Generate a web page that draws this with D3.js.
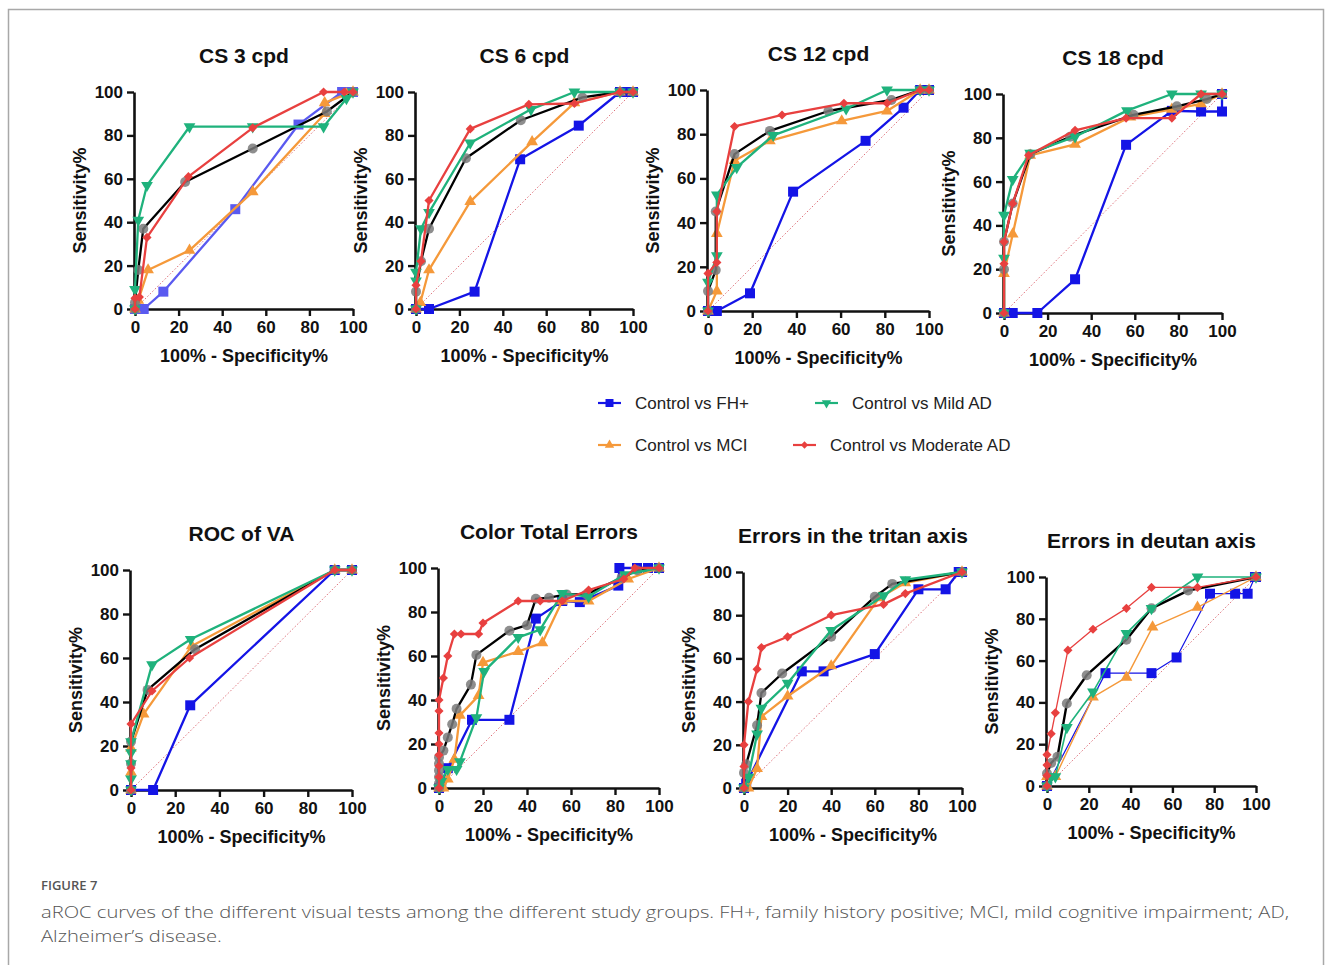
<!DOCTYPE html>
<html>
<head>
<meta charset="utf-8">
<script src="https://cdn.jsdelivr.net/npm/d3@7"></script>
<style>
  body { margin: 0; background: #fff; }
  svg text { font-family: "Liberation Sans", Arial, sans-serif; }
  svg text.caption { font-family: "Open Sans", sans-serif; }
</style>
</head>
<body>
<script>
// ---- data: [100% - specificity, sensitivity] ----

// CS 3 cpd
const CS3_FH   = [[0,0],[4,0],[13,8],[46,46],[75,85],[95,100],[97,100],[100,100]]
const CS3_MCI  = [[0,0],[1.5,4],[6,18],[25,27],[54,54],[87,90],[87,95],[97,99],[100,100]]
const CS3_MILD = [[0,0],[0,9],[1.5,41],[5.5,57],[25,84],[54,84],[86.5,84],[97,97],[100,100]]
const CS3_MOD  = [[0,0],[0,5],[2,5.5],[5.5,33],[24.5,61],[54,83.5],[86.5,100],[96,100],[100,100]]
const CS3_ALL  = [[0,0],[0,3],[1.5,18],[3.8,37],[23,58.5],[54,74],[88,91],[100,100]]

// CS 6 cpd
const CS6_FH   = [[0,0],[6,0],[27,8],[48,69],[75,84.5],[94,100],[97,100],[100,100]]
const CS6_MCI  = [[0,0],[2,3],[6,18],[25,49.5],[53.5,77],[73,95],[94,100],[100,100]]
const CS6_MILD = [[0,0],[0,13],[0,17],[2.3,37],[6,44.5],[25,76.5],[53,92],[73,100],[94,100],[100,100]]
const CS6_MOD  = [[0,0],[0,11],[2.3,22],[6,50],[25,83],[52,94.3],[73,94.7],[94,100],[100,100]]
const CS6_ALL  = [[0,0],[0,8],[2.3,22],[6,37],[23,69.5],[48.3,87],[76.7,97.5],[94,100],[100,100]]

// CS 12 cpd
const CS12_FH   = [[0,0],[4,0],[19,8],[38.5,54],[71.3,77],[88.5,92],[96,100],[100,100]]
const CS12_MCI  = [[0,0],[4,9],[4,35],[12,68],[28,77],[60.5,86],[81,90.5],[96,100],[100,100]]
const CS12_MILD = [[0,0],[0,13],[4,25],[4,52.5],[13,65],[29.5,79.5],[62.5,91.5],[81,100],[96,100],[100,100]]
const CS12_MOD  = [[0,0],[0,17],[4,22],[4,45],[12,83.5],[33.5,88.7],[61.5,94],[81,94],[96,100],[100,100]]
const CS12_ALL  = [[0,0],[0,9],[3.5,18.5],[3.5,45],[12,71],[28,81.5],[54.5,90.5],[83,95.5],[96,100],[100,100]]

// CS 18 cpd
const CS18_FH   = [[0,0],[4,0],[15.3,0],[32.6,15.4],[56,76.8],[77,92.3],[90.4,92],[100,92],[100,100]]
const CS18_MCI  = [[0,0],[0,18],[4,36],[12,72],[32.6,77],[58,89.5],[77,93],[90.4,95.5],[100,100]]
const CS18_MILD = [[0,0],[0,25],[0,44.7],[4,61],[12,73],[32.6,80.5],[56.4,92.4],[77,100],[90.4,100],[100,100]]
const CS18_MOD  = [[0,0],[0,22.5],[0,32.5],[4,50],[11.3,72],[32.6,83.4],[56,89],[77,89],[90.4,100],[100,100]]
const CS18_ALL  = [[0,0],[0,20],[0,32.5],[4,50],[12,72.5],[30.3,80.5],[59.4,90.5],[79.3,94.4],[93,97.7],[100,100]]

// ROC of VA
const VA_FH   = [[0,0],[10,0],[26.8,38.5],[92.2,100],[100,100]]
const VA_MCI  = [[0,0],[0,8],[0,19],[5.7,34.5],[27.5,65.5],[92.2,100],[100,100]]
const VA_MILD = [[0,0],[0,5],[0,12],[0,17],[0,22],[9.5,57],[27,68.5],[92.2,100],[100,100]]
const VA_MOD  = [[0,0],[0,10],[0,30],[9.5,45],[26.5,60],[92.2,100],[100,100]]
const VA_ALL  = [[0,0],[0,12],[0,22],[7.5,45.5],[29,64],[92.2,100],[100,100]]

// Color Total Errors
const CTE_FH   = [[0,0],[1,2],[4,9],[15,31],[32,31],[44,77],[56,85],[64,84.5],[81.5,92],[82,100],[90,100],[95,100],[100,100]]
const CTE_MCI  = [[0,0],[2,0],[4,4],[7,13],[9.5,33],[18,42],[20,57],[36,62],[47,66],[56,85],[68,85],[86,95],[100,100]]
const CTE_MILD = [[0,0],[1,3],[4,8.5],[8,8.5],[9.5,12],[17,32],[20.5,53],[36,68.5],[46,72],[56,88.5],[68,87],[84.5,97],[100,100]]
const CTE_MOD  = [[0,0],[0,5],[0,10],[0,15],[0,20],[0,25],[0,35],[0,40],[2,50],[4,60],[7,70],[10,70],[18,70],[20,75],[36,85],[46,85],[56,85],[68,90],[84,95],[89,100],[100,100]]
const CTE_ALL  = [[0,0],[0,2],[0,5],[0,8],[0,11],[0,14],[2,17],[4,23],[6,29],[8,36],[14.5,47],[17,60.5],[32,71.5],[40,74],[44,86],[50,86.5],[58,88],[67,88],[83,95.5],[90,99],[100,100]]

// Errors in the tritan axis
const TRI_FH   = [[0,0],[1,2],[26.5,54],[36.5,54],[60,62],[80,92],[92.5,92],[98.5,100],[100,100]]
const TRI_MCI  = [[0,0],[2,0],[6,9],[8,33],[20,42.5],[40,56.5],[62,88],[74,95],[100,100]]
const TRI_MILD = [[0,0],[2,5],[6,25],[8,37],[20,48.5],[40,73],[64,89],[74,96.5],[100,100]]
const TRI_MOD  = [[0,0],[0,10],[0,20],[2,40],[6,55],[8,65],[20,70],[40,80],[64,85],[74,90],[100,100]]
const TRI_ALL  = [[0,0],[0,7],[1,11],[6,29],[8,44],[17.5,53],[40,70],[60,88.5],[68,94.5],[100,100]]

// Errors in deutan axis
const DEU_FH   = [[0,0],[28,54],[50,54],[62,61.5],[78,92],[90,92],[96,92],[99.5,100],[100,100]]
const DEU_MCI  = [[0,0],[0,4.5],[4,4.5],[22,42.5],[38,52],[50.5,76],[72,85.5],[100,100]]
const DEU_MILD = [[0,0],[2,4.5],[4,4.5],[9.5,28],[22,45],[38,73],[50,85],[72,100],[100,100]]
const DEU_MOD  = [[0,0],[0,5],[0,10],[0,15],[2,25],[4,35],[10,65],[22,75],[38,85],[50,95],[72,95],[100,100]]
const DEU_ALL  = [[0,0],[0,6],[2,11],[5,14],[9.5,39.5],[19,53],[38,70],[50,85],[67.5,93.5],[100,100]]

const TICKS = [0, 20, 40, 60, 80, 100]
const LEGEND_LABELS = ['Control vs FH+', 'Control vs Mild AD', 'Control vs MCI', 'Control vs Moderate AD']
const CAPTION_HEAD = 'FIGURE 7'
const CAPTION_LINES = [
  'aROC curves of the different visual tests among the different study groups. FH+, family history positive; MCI, mild cognitive impairment; AD,',
  'Alzheimer\u2019s disease.'
]

// ---- style / layout ----

const COLORS = { fh: '#1414e6', mci: '#f5993a', mild: '#1fb27c', mod: '#e8403f', all: '#000' }
const DRAW_ORDER = ['fh', 'mci', 'all', 'mild', 'mod']

const PANELS = [
  { title: 'CS 3 cpd', x: [135, 353], y: [309, 92], fhColor: '#5a5af0',
    series: { fh: CS3_FH, mci: CS3_MCI, mild: CS3_MILD, mod: CS3_MOD, all: CS3_ALL } },
  { title: 'CS 6 cpd', x: [416, 633], y: [309, 92],
    series: { fh: CS6_FH, mci: CS6_MCI, mild: CS6_MILD, mod: CS6_MOD, all: CS6_ALL } },
  { title: 'CS 12 cpd', x: [708, 929], y: [311, 90],
    series: { fh: CS12_FH, mci: CS12_MCI, mild: CS12_MILD, mod: CS12_MOD, all: CS12_ALL } },
  { title: 'CS 18 cpd', x: [1004, 1222], y: [313, 94],
    series: { fh: CS18_FH, mci: CS18_MCI, mild: CS18_MILD, mod: CS18_MOD, all: CS18_ALL } },
  { title: 'ROC of VA', x: [131, 352], y: [790, 570],
    series: { fh: VA_FH, mci: VA_MCI, mild: VA_MILD, mod: VA_MOD, all: VA_ALL } },
  { title: 'Color Total Errors', x: [439, 659], y: [788, 568],
    series: { fh: CTE_FH, mci: CTE_MCI, mild: CTE_MILD, mod: CTE_MOD, all: CTE_ALL } },
  { title: 'Errors in the tritan axis', x: [744, 962], y: [788, 572],
    series: { fh: TRI_FH, mci: TRI_MCI, mild: TRI_MILD, mod: TRI_MOD, all: TRI_ALL } },
  { title: 'Errors in deutan axis', x: [1047, 1256], y: [786, 577],
    widths: { fh: 1.2, mci: 1.4, mild: 1.6, mod: 1.3, all: 2.4 },
    series: { fh: DEU_FH, mci: DEU_MCI, mild: DEU_MILD, mod: DEU_MOD, all: DEU_ALL } }
]

const svg = d3.select('body').append('svg')
  .attr('width', 1331)
  .attr('height', 965)

// figure frame
svg.append('rect')
  .attr('x', 8.5).attr('y', 9.5)
  .attr('width', 1315).attr('height', 1000)
  .attr('fill', 'none')
  .attr('stroke', '#a8a8a8')
  .attr('stroke-width', 1.5)

function marker(sel, key, color) {
  if (key === 'all') {
    sel.append('circle').attr('r', 5).attr('fill', '#7a7a7a').attr('fill-opacity', 0.85)
  } else if (key === 'fh') {
    sel.append('path').attr('d', d3.symbol(d3.symbolSquare, 100)()).attr('fill', color)
  } else if (key === 'mci') {
    sel.append('path').attr('d', d3.symbol(d3.symbolTriangle, 60)()).attr('fill', color)
  } else if (key === 'mild') {
    sel.append('path').attr('d', d3.symbol(d3.symbolTriangle, 60)())
      .attr('transform', 'rotate(180)').attr('fill', color)
  } else {
    sel.append('path').attr('d', d3.symbol(d3.symbolSquare, 42)())
      .attr('transform', 'rotate(45)').attr('fill', color)
  }
}

PANELS.forEach((p) => {
  let x = d3.scaleLinear().domain([0, 100]).range(p.x)
  let y = d3.scaleLinear().domain([0, 100]).range(p.y)
  let g = svg.append('g').attr('class', 'panel')
  let cx = (p.x[0] + p.x[1]) / 2

  g.append('text')
    .attr('x', cx).attr('y', p.y[1] - 29)
    .attr('text-anchor', 'middle')
    .attr('font-size', 21).attr('font-weight', 'bold')
    .attr('fill', '#111')
    .text(p.title)

  // chance line
  g.append('line')
    .attr('x1', x(0)).attr('y1', y(0))
    .attr('x2', x(100)).attr('y2', y(100))
    .attr('stroke', '#d9606a').attr('stroke-width', 0.9)
    .attr('stroke-dasharray', '1.5,2')

  let xAxis = g.append('g')
    .attr('transform', 'translate(0,' + p.y[0] + ')')
    .call(d3.axisBottom(x).tickValues(TICKS).tickSize(7).tickSizeOuter(0).tickPadding(5))
  let yAxis = g.append('g')
    .attr('transform', 'translate(' + (p.x[0] - 1) + ',0)')
    .call(d3.axisLeft(y).tickValues(TICKS).tickSize(7).tickSizeOuter(0).tickPadding(4))

  ;[xAxis, yAxis].forEach((a) => {
    a.select('.domain').attr('stroke', '#111').attr('stroke-width', 2.6)
    a.selectAll('.tick line').attr('stroke', '#111').attr('stroke-width', 2.4)
    a.selectAll('.tick text')
      .attr('font-size', 17).attr('font-weight', 'bold').attr('fill', '#111')
  })

  g.append('text')
    .attr('x', cx).attr('y', p.y[0] + 53)
    .attr('text-anchor', 'middle')
    .attr('font-size', 18).attr('font-weight', 'bold').attr('fill', '#111')
    .text('100% - Specificity%')

  g.append('text')
    .attr('transform', 'translate(' + (p.x[0] - 49) + ',' + ((p.y[0] + p.y[1]) / 2) + ') rotate(-90)')
    .attr('text-anchor', 'middle')
    .attr('font-size', 18).attr('font-weight', 'bold').attr('fill', '#111')
    .text('Sensitivity%')

  let line = d3.line().x((d) => x(d[0])).y((d) => y(d[1]))

  DRAW_ORDER.forEach((key) => {
    let color = key === 'fh' && p.fhColor ? p.fhColor : COLORS[key]
    let w = p.widths ? p.widths[key] : 2.3
    let s = g.append('g').attr('class', 'series ' + key)
    s.append('path')
      .datum(p.series[key])
      .attr('d', line)
      .attr('fill', 'none')
      .attr('stroke', color)
      .attr('stroke-width', w)
      .attr('stroke-linejoin', 'round')
    s.selectAll('.pt')
      .data(p.series[key])
      .enter().append('g')
        .attr('class', 'pt')
        .attr('transform', (d) => 'translate(' + x(d[0]) + ',' + y(d[1]) + ')')
        .each(function () { marker(d3.select(this), key, color) })
  })
})

// legend
const LEGEND_KEYS = ['fh', 'mild', 'mci', 'mod']
const LEGEND_POS = [[598, 403], [815, 403], [598, 445], [793, 445]]
LEGEND_KEYS.forEach((key, i) => {
  let [lx, ly] = LEGEND_POS[i]
  let g = svg.append('g').attr('transform', 'translate(' + lx + ',' + ly + ')')
  g.append('line').attr('x1', 0).attr('x2', 23).attr('stroke', COLORS[key]).attr('stroke-width', 2.2)
  let m = g.append('g').attr('transform', 'translate(11.5,0) scale(0.8)')
  marker(m, key, COLORS[key])
  g.append('text')
    .attr('x', 37).attr('dy', '0.35em')
    .attr('font-size', 17).attr('fill', '#222')
    .text(LEGEND_LABELS[i])
})

// caption
svg.append('text')
  .attr('class', 'caption')
  .attr('x', 41).attr('y', 890)
  .attr('font-size', 13).attr('font-weight', 600).attr('fill', '#555')
  .text(CAPTION_HEAD)

let cap = svg.selectAll('.caption-line')
  .data(CAPTION_LINES)
  .enter().append('text')
    .attr('class', 'caption caption-line')
    .attr('x', 41).attr('y', (d, i) => 918 + i * 23.5)
    .attr('font-weight', 300)
    .attr('font-size', 17).attr('fill', '#555')
    .text((d) => d)

// stretch both caption lines by the same factor so the first spans its width in the figure
let lens = cap.nodes().map((n) => n.getComputedTextLength())
let stretch = 1248 / lens[0]
cap.attr('textLength', (d, i) => lens[i] * stretch)
  .attr('lengthAdjust', 'spacingAndGlyphs')
</script>
</body>
</html>
